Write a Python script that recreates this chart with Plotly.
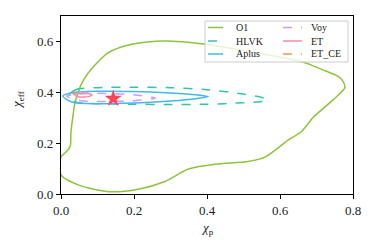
import plotly.graph_objects as go

# ---- data ----
o1_x = [0.0, 0.047, 0.13, 0.212, 0.285, 0.349, 0.422, 0.513, 0.559, 0.623, 0.659, 0.69, 0.745, 0.778,
        0.764, 0.714, 0.66, 0.532, 0.395, 0.285, 0.194, 0.13, 0.075, 0.055, 0.045, 0.038, 0.034, 0.027,
        0.025, 0.011, 0.0, 0.0]
o1_y = [0.075, 0.036, 0.009, 0.019, 0.049, 0.098, 0.117, 0.128, 0.145, 0.213, 0.246, 0.30, 0.37, 0.42,
        0.458, 0.49, 0.52, 0.556, 0.589, 0.602, 0.589, 0.556, 0.477, 0.43, 0.39, 0.358, 0.32, 0.24,
        0.187, 0.161, 0.147, 0.075]

hlvk_x = [0.02, 0.04, 0.1, 0.2, 0.3, 0.4, 0.5, 0.55, 0.565, 0.55, 0.5, 0.4, 0.3, 0.2, 0.1, 0.04, 0.02]
hlvk_y = [0.385, 0.41, 0.418, 0.42, 0.418, 0.41, 0.393, 0.38, 0.372, 0.364, 0.359, 0.353, 0.352, 0.353,
          0.355, 0.362, 0.385]

aplus_x = [0.005, 0.03, 0.1, 0.2, 0.3, 0.37, 0.404, 0.37, 0.3, 0.2, 0.1, 0.03, 0.005]
aplus_y = [0.385, 0.398, 0.404, 0.403, 0.397, 0.39, 0.383, 0.375, 0.366, 0.358, 0.355, 0.362, 0.385]

voy_x = [0.015, 0.05, 0.1, 0.2, 0.258, 0.2, 0.1, 0.05, 0.015]
voy_y = [0.385, 0.393, 0.396, 0.39, 0.377, 0.367, 0.364, 0.368, 0.385]

et_x = [0.038, 0.045, 0.062, 0.078, 0.085, 0.078, 0.062, 0.045, 0.038]
et_y = [0.389, 0.395, 0.397, 0.394, 0.389, 0.384, 0.381, 0.383, 0.389]

etce_x = [0.033, 0.036, 0.039, 0.036, 0.033]
etce_y = [0.395, 0.398, 0.395, 0.392, 0.395]

true_x = [0.143]
true_y = [0.375]

x_ticks = [0.0, 0.2, 0.4, 0.6, 0.8]
y_ticks = [0.0, 0.2, 0.4, 0.6]

names = ["O1", "HLVK", "Aplus", "Voy", "ET", "ET_CE"]
colors = ["#8cc43c", "#33c4a8", "#44b8ea", "#cc99ff", "#ff88aa", "#e0a050"]
dashes = ["solid", "dash", "solid", "dash", "solid", "dash"]
xs = [o1_x, hlvk_x, aplus_x, voy_x, et_x, etce_x]
ys = [o1_y, hlvk_y, aplus_y, voy_y, et_y, etce_y]

FONT = "Liberation Serif, Times New Roman, serif"
TXT = "#222222"

fig = go.Figure()
draw_order = [0, 1, 3, 2, 5, 4]
for i in draw_order:
    fig.add_trace(go.Scatter(
        x=xs[i], y=ys[i], mode="lines", name=names[i],
        line=dict(color=colors[i], width=1.5, dash=dashes[i], shape="spline", smoothing=0.8),
        showlegend=False, hoverinfo="skip"))

fig.add_trace(go.Scatter(x=true_x, y=true_y, mode="markers", name="true",
                         marker=dict(symbol="star", size=13, color="#ff4455",
                                     line=dict(width=0)), showlegend=False, hoverinfo="skip"))

# ---- plot area geometry in pixels ----
W, H = 374, 250
L, R, T, B = 61, 21, 16, 56
pw, ph = W - L - R, H - T - B


def px(xpix):
    return (xpix - L) / pw


def py(ypix):
    return (H - B - ypix) / ph


shapes = []
annotations = []
# legend box
shapes.append(dict(type="rect", xref="paper", yref="paper",
                   x0=px(205), x1=px(348), y0=py(62), y1=py(21),
                   fillcolor="rgba(255,255,255,0.8)", line=dict(color="#cccccc", width=1),
                   layer="above"))
rows = [27.5, 41, 54]
cols = [(208, 223, 234), (283, 302, 309)]
for k, nm in enumerate(names):
    c = k // 3
    r = k % 3
    x0, x1, xt = cols[c]
    yy = rows[r]
    shapes.append(dict(type="line", xref="paper", yref="paper",
                       x0=px(x0), x1=px(x1), y0=py(yy), y1=py(yy),
                       line=dict(color=colors[k], width=1.5, dash=dashes[k]), layer="above"))
    annotations.append(dict(xref="paper", yref="paper", x=px(xt), y=py(yy),
                            xanchor="left", yanchor="middle", text=nm, showarrow=False,
                            font=dict(family=FONT, size=10, color=TXT)))

# axis titles
annotations.append(dict(xref="paper", yref="paper", x=0.5, y=py(228), xanchor="center",
                        yanchor="middle", text="<i>χ</i><sub>p</sub>", showarrow=False,
                        font=dict(family=FONT, size=13, color=TXT)))
annotations.append(dict(xref="paper", yref="paper", x=px(17), y=py(100), xanchor="center",
                        yanchor="middle", text="<i>χ</i><sub>eff</sub>", showarrow=False,
                        textangle=-90, font=dict(family=FONT, size=13, color=TXT)))

fig.update_layout(
    width=W, height=H,
    margin=dict(l=L, r=R, t=T, b=B, autoexpand=False),
    paper_bgcolor="white", plot_bgcolor="white",
    font=dict(family=FONT, size=13, color=TXT),
    shapes=shapes, annotations=annotations,
    xaxis=dict(range=[0, 0.8], tickvals=x_ticks, tickformat=".1f", showgrid=False, zeroline=False,
               showline=True, linecolor="black", linewidth=1.2, mirror=True,
               ticks="outside", ticklen=4, tickwidth=1, tickcolor="black", automargin=False,
               tickfont=dict(family=FONT, size=13, color=TXT)),
    yaxis=dict(range=[0, 0.7], tickvals=y_ticks, tickformat=".1f", showgrid=False, zeroline=False,
               showline=True, linecolor="black", linewidth=1.2, mirror=True,
               ticks="outside", ticklen=4, tickwidth=1, tickcolor="black", automargin=False,
               tickfont=dict(family=FONT, size=13, color=TXT)),
)

fig.write_html("out.html", config={"displayModeBar": False},
               post_script="document.body.style.margin='0px';")
